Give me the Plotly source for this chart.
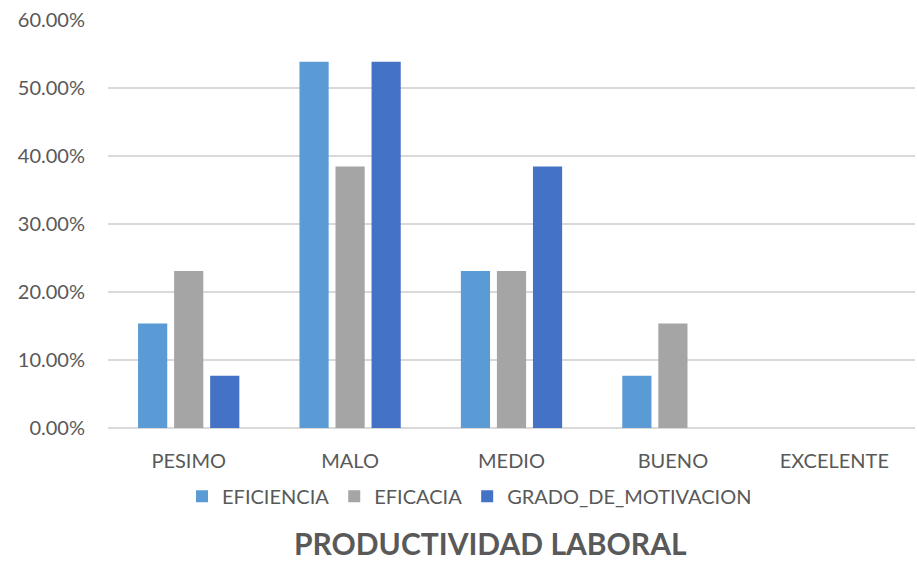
import plotly.graph_objects as go

# Productivity levels and share of responses for each dimension
categorias = ["PESIMO", "MALO", "MEDIO", "BUENO", "EXCELENTE"]
eficiencia = [0.1538, 0.5385, 0.2308, 0.0769, 0.0]
eficacia = [0.2308, 0.3846, 0.2308, 0.1538, 0.0]
grado_de_motivacion = [0.0769, 0.5385, 0.3846, 0.0, 0.0]

series = [
    ("EFICIENCIA", eficiencia, "#5b9bd5"),
    ("EFICACIA", eficacia, "#a5a5a5"),
    ("GRADO_DE_MOTIVACION", grado_de_motivacion, "#4472c4"),
]

fig = go.Figure()
for nombre, valores, color in series:
    fig.add_trace(go.Bar(
        name=nombre,
        x=categorias,
        y=valores,
        marker=dict(color=color, line=dict(width=0)),
    ))

font_family = "Lato, 'Open Sans', sans-serif"
text_color = "#595959"

fig.update_layout(
    width=917,
    height=561,
    margin=dict(l=108, r=2, t=20, b=133),
    paper_bgcolor="white",
    plot_bgcolor="white",
    barmode="group",
    bargap=0.33,
    bargroupgap=0.19,
    font=dict(family=font_family, color=text_color, size=20),
    showlegend=True,
    legend=dict(
        orientation="h",
        x=0.448,
        xanchor="center",
        y=-0.167,
        yanchor="middle",
        font=dict(size=20, color=text_color),
        itemwidth=30,
        traceorder="normal",
    ),
    xaxis=dict(
        showgrid=False,
        showline=False,
        ticks="",
        ticklabelstandoff=19,
        tickfont=dict(size=20, color=text_color),
        zeroline=False,
    ),
    yaxis=dict(
        range=[0, 0.6],
        dtick=0.1,
        tickformat=".2%",
        showgrid=True,
        gridcolor="#d9d9d9",
        gridwidth=1.5,
        zeroline=True,
        zerolinecolor="#d9d9d9",
        zerolinewidth=1.5,
        showline=False,
        ticks="",
        ticklabelstandoff=22,
        tickfont=dict(size=20, color=text_color),
    ),
    annotations=[
        dict(
            text="<b>PRODUCTIVIDAD LABORAL</b>",
            x=0.474,
            xref="paper",
            y=-0.283,
            yref="paper",
            xanchor="center",
            yanchor="middle",
            showarrow=False,
            font=dict(size=30, color=text_color, family=font_family),
        )
    ],
)

fig.write_html("out.html")
